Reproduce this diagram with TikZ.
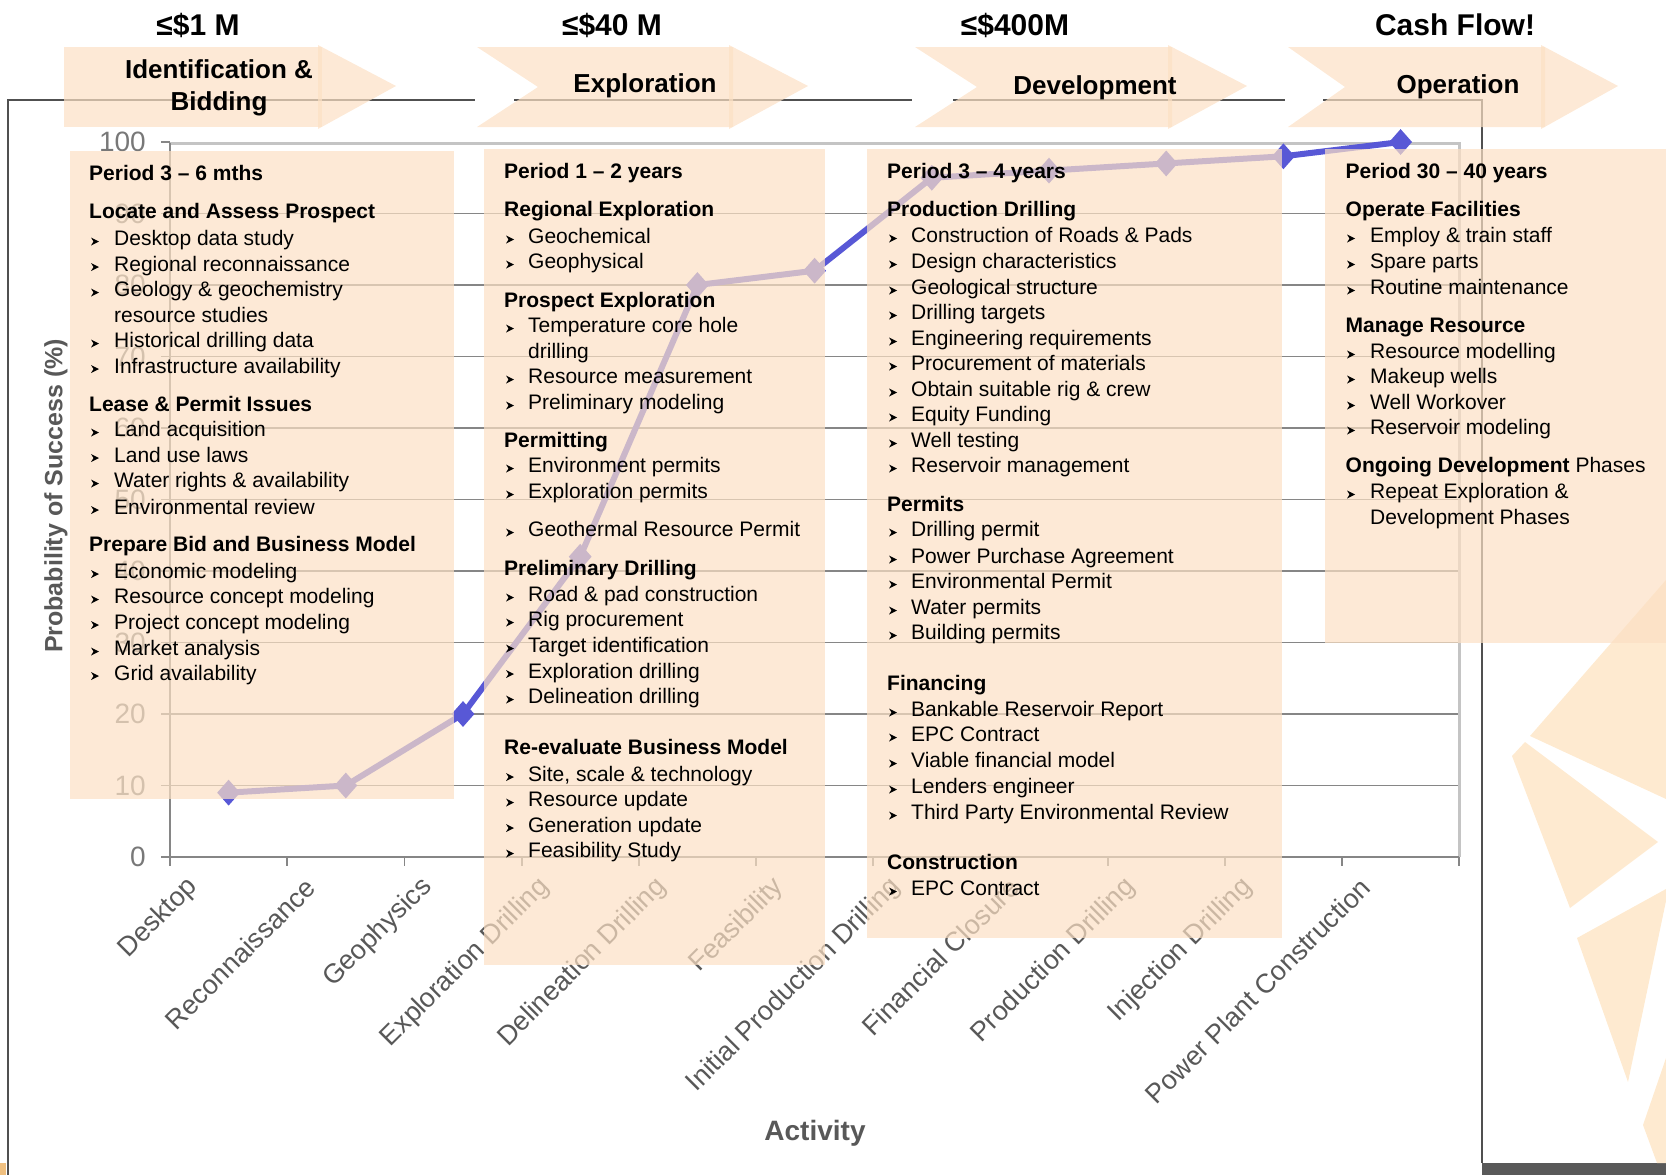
\documentclass[tikz,border=0pt]{standalone}
\usepackage{fontspec}
\setmainfont{Liberation Sans}
\usetikzlibrary{shapes.geometric}
\definecolor{pPeach}{RGB}{252,224,196}
\definecolor{pDeco}{RGB}{254,234,208}
\definecolor{pBlue}{RGB}{88,88,214}
\definecolor{pGrid}{RGB}{134,134,134}
\definecolor{pBorder}{RGB}{196,196,196}
\definecolor{pFrame}{RGB}{80,80,80}
\definecolor{pLabel}{RGB}{88,88,88}
\definecolor{pTick}{RGB}{120,120,120}
\definecolor{pBar}{RGB}{89,89,89}
\definecolor{pOrange}{RGB}{240,192,128}
\tikzstyle{chevron} = [fill=pPeach, fill opacity=0.7]
\tikzstyle{infobox} = [fill=pPeach, fill opacity=0.7]
\tikzstyle{budget} = [anchor=base, inner sep=0pt, font=\fontsize{30}{36}\selectfont\bfseries]
\tikzstyle{phasetext} = [anchor=base, inner sep=0pt, font=\fontsize{26}{30}\selectfont\bfseries]
\tikzstyle{grouphead} = [anchor=base west, inner sep=0pt, font=\fontsize{21}{25}\selectfont\bfseries]
\tikzstyle{bullettext} = [anchor=base west, inner sep=0pt, font=\fontsize{21}{25}\selectfont]
\tikzstyle{ylab} = [anchor=east, inner sep=0pt, text=pTick, font=\fontsize{28}{30}\selectfont]
\tikzstyle{xlab} = [anchor=east, rotate=45, inner sep=0pt, text=pLabel, font=\fontsize{27}{30}\selectfont]
\tikzstyle{axtitle} = [inner sep=0pt, text=pLabel, font=\fontsize{28}{30}\selectfont\bfseries]
\tikzstyle{gridline} = [draw=pGrid, line width=1.5pt]
\tikzstyle{axisline} = [draw=pGrid, line width=1.8pt]
\tikzstyle{slideframe} = [draw=pFrame, line width=1.5pt]
\tikzstyle{dataline} = [draw=pBlue, line width=6pt, line join=round]
\tikzstyle{datapt} = [diamond, fill=pBlue, inner sep=0pt, minimum width=23pt, minimum height=26pt]
\newcommand{\bul}[2]{\fill (#1,#2-8) -- (#1+8,#2-4) -- (#1,#2) -- (#1+2.5,#2-4) -- cycle;}

\begin{document}
\begin{tikzpicture}[x=1pt, y=-1pt]
  \useasboundingbox (0,0) rectangle (1666,1175);

  % slide frame and decoration
  \draw[slideframe] (8,1175) -- (8,100) -- (475,100);
  \draw[slideframe] (514,100) -- (912,100);
  \draw[slideframe] (953,100) -- (1285,100);
  \draw[slideframe] (1323,100) -- (1482,100) -- (1482,1163);
  \fill[pBar] (1482,1163) rectangle (1666,1175);
  \fill[pOrange] (0,1163) rectangle (6,1175);
  \fill[pDeco] (1530,736) -- (1666,580) -- (1666,799) -- cycle;
  \fill[pDeco] (1512,756) -- (1525,742) -- (1658,842) -- (1570,908) -- cycle;
  \fill[pDeco] (1577,938) -- (1666,889) -- (1666,901) -- (1628,1082) -- cycle;
  \fill[pDeco] (1643,1125) -- (1666,1058) -- (1666,1163) -- (1657,1163) -- cycle;

  % chart
  \foreach \v in {10,20,...,90}
    \draw[gridline] (170,{857-7.15*\v}) -- (1459,{857-7.15*\v});
  \draw[draw=pBorder, line width=3pt] (170,143) -- (1459,143) -- (1459,857);
  \draw[axisline] (170,143) -- (170,857);
  \draw[axisline] (161,857) -- (1459,857);
  \foreach \k in {0,...,11}
    \draw[axisline] ({170+117.2*\k},857) -- ++(0,9);
  \foreach \v in {0,10,...,100} {
    \draw[axisline] (161,{857-7.15*\v}) -- (170,{857-7.15*\v});
    \node[ylab] (yl\v) at (146,{857-7.15*\v}) {\v};
  }
  \foreach \lab [count=\i] in {Desktop, Reconnaissance, Geophysics, Exploration Drilling,
      Delineation Drilling, Feasibility, Initial Production Drilling, Financial Closure,
      Production Drilling, Injection Drilling, Power Plant Construction}
    \node[xlab] (xl\i) at ({170+117.2*(\i-0.5)-35},883) {\lab};
  \node[axtitle, rotate=90, font=\fontsize{25}{30}\selectfont\bfseries] (ytitle) at (56,496) {Probability of Success (\%)};
  \node[axtitle] (xtitle) at (815,1133) {Activity};

  \foreach \v [count=\i] in {9,10,20,42,80,82,95,96,97,98,100}
    \coordinate (p\i) at ({170+117.2*(\i-0.5)},{857-7.15*\v});
  \draw[dataline] (p1) \foreach \i in {2,...,11} { -- (p\i) };
  \foreach \i in {1,...,11}
    \node[datapt] (d\i) at (p\i) {};

  % phase arrows
  \fill[chevron] (64,47) rectangle (322,127);
  \fill[chevron] (318,45) -- (396,86) -- (318,129) -- cycle;
  \foreach \l/\n/\s/\t in {477/538/733/808, 915/977/1172/1247, 1288/1345/1545/1618} {
    \fill[chevron] (\l,47) -- (\s,47) -- (\s,127) -- (\l,127) -- (\n,87) -- cycle;
    \fill[chevron] (\s-4,45) -- (\t,86) -- (\s-4,129) -- cycle;
  }
  \node[phasetext] (ph1a) at (219,78.5) {Identification \&};
  \node[phasetext] (ph1b) at (219,110) {Bidding};
  \node[phasetext] (ph2) at (645,92) {Exploration};
  \node[phasetext] (ph3) at (1095,94) {Development};
  \node[phasetext] (ph4) at (1458,93) {Operation};

  \node[budget] (cost1) at (198,35) {≤\$1 M};
  \node[budget] (cost2) at (612,35) {≤\$40 M};
  \node[budget] (cost3) at (1015,35) {≤\$400M};
  \node[budget] (cost4) at (1455,35) {Cash Flow!};

  % activity boxes
  \fill[infobox] (70,151) rectangle (454,799);
  \fill[infobox] (484,149) rectangle (825,965);
  \fill[infobox] (867,149) rectangle (1282,938);
  \fill[infobox] (1325,149) rectangle (1666,643);

  \node[grouphead] (ida) at (89,180.5) {Period 3 – 6 mths};
  \node[grouphead] (idb) at (89,218.5) {Locate and Assess Prospect};
  \node[grouphead] (idc) at (89,411.5) {Lease \& Permit Issues};
  \node[grouphead] (idd) at (89,551.5) {Prepare Bid and Business Model};
  \foreach \y/\t [count=\i] in {245.5/Desktop data study, 271/Regional reconnaissance,
      296.5/Geology \& geochemistry, 347.5/Historical drilling data,
      373/Infrastructure availability, 436.5/Land acquisition, 462/Land use laws,
      487.5/Water rights \& availability, 514/Environmental review,
      578/Economic modeling, 603.5/Resource concept modeling,
      629/Project concept modeling, 655.5/Market analysis, 680/Grid availability} {
    \node[bullettext] (idi\i) at (114,\y) {\t};
    \bul{91}{\y}
  }
  \node[bullettext] (idcont) at (114,322) {resource studies};

  \node[grouphead] (exa) at (504,178.5) {Period 1 – 2 years};
  \node[grouphead] (exb) at (504,216.5) {Regional Exploration};
  \node[grouphead] (exc) at (504,307.5) {Prospect Exploration};
  \node[grouphead] (exd) at (504,447.5) {Permitting};
  \node[grouphead] (exe) at (504,575.5) {Preliminary Drilling};
  \node[grouphead] (exf) at (504,754.5) {Re-evaluate Business Model};
  \foreach \y/\t [count=\i] in {243.5/Geochemical, 268.5/Geophysical,
      332.5/Temperature core hole, 383.5/Resource measurement,
      409.5/Preliminary modeling, 472.5/Environment permits,
      498.5/Exploration permits, 536.5/Geothermal Resource Permit,
      601.5/Road \& pad construction, 626.5/Rig procurement,
      652.5/Target identification, 678/Exploration drilling,
      703.5/Delineation drilling, 781/{Site, scale \& technology},
      806.5/Resource update, 832/Generation update, 857.5/Feasibility Study} {
    \node[bullettext] (exi\i) at (528,\y) {\t};
    \bul{506}{\y}
  }
  \node[bullettext] (excont) at (528,358.5) {drilling};

  \node[grouphead] (dva) at (887,178.5) {Period 3 – 4 years};
  \node[grouphead] (dvb) at (887,216.5) {Production Drilling};
  \node[grouphead] (dvc) at (887,511.5) {Permits};
  \node[grouphead] (dvd) at (887,690.5) {Financing};
  \node[grouphead] (dve) at (887,869.5) {Construction};
  \foreach \y/\t [count=\i] in {242.5/Construction of Roads \& Pads,
      268.5/Design characteristics, 294.5/Geological structure,
      319.5/Drilling targets, 345.5/Engineering requirements,
      370.5/Procurement of materials, 396.5/Obtain suitable rig \& crew,
      421.5/Equity Funding, 447.5/Well testing, 472.5/Reservoir management,
      536.5/Drilling permit, 563.5/Power Purchase Agreement,
      588.5/Environmental Permit, 614.5/Water permits, 639.5/Building permits,
      716.5/Bankable Reservoir Report, 741.5/EPC Contract,
      767.5/Viable financial model, 793.5/Lenders engineer,
      819.5/Third Party Environmental Review, 895.5/EPC Contract} {
    \node[bullettext] (dvi\i) at (911,\y) {\t};
    \bul{889}{\y}
  }

  \node[grouphead] (opa) at (1345.5,178.5) {Period 30 – 40 years};
  \node[grouphead] (opb) at (1345.5,216.5) {Operate Facilities};
  \node[grouphead] (opc) at (1345.5,332.5) {Manage Resource};
  \node[grouphead] (opd) at (1345.5,472.5) {Ongoing Development {\mdseries Phases}};
  \foreach \y/\t [count=\i] in {242.5/Employ \& train staff, 268.5/Spare parts,
      294.5/Routine maintenance, 358.5/Resource modelling, 383.5/Makeup wells,
      409.5/Well Workover, 434.5/Reservoir modeling, 498.5/Repeat Exploration \&} {
    \node[bullettext] (opi\i) at (1370,\y) {\t};
    \bul{1347}{\y}
  }
  \node[bullettext] (opcont) at (1370,524.5) {Development Phases};
\end{tikzpicture}
\end{document}
